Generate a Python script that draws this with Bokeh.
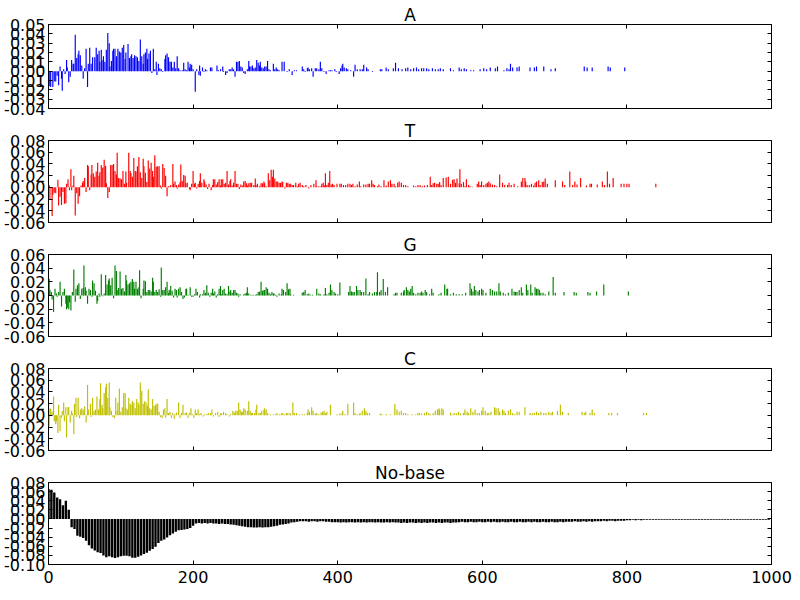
from bokeh.plotting import figure
from bokeh.layouts import column
from bokeh.models import Range1d, FixedTicker, PrintfTickFormatter, LinearAxis
from bokeh.embed import file_html
from bokeh.resources import INLINE

FONT = "DejaVu Sans"

panel_titles = ["A", "T", "G", "C", "No-base"]
panel_colors = ["#0000ff", "#ff0000", "#008000", "#bfbf00", "#000000"]
x_ticks = [0, 200, 400, 600, 800, 1000]
a_ticks = [-0.04, -0.03, -0.02, -0.01, 0.0, 0.01, 0.02, 0.03, 0.04, 0.05]
t_ticks = [-0.06, -0.04, -0.02, 0.0, 0.02, 0.04, 0.06, 0.08]
g_ticks = [-0.06, -0.04, -0.02, 0.0, 0.02, 0.04, 0.06]
c_ticks = [-0.06, -0.04, -0.02, 0.0, 0.02, 0.04, 0.06, 0.08]
nb_ticks = [-0.10, -0.08, -0.06, -0.04, -0.02, 0.0, 0.02, 0.04, 0.06, 0.08]

a_data = [(1,-0.016),(3,-0.017),(6,-0.017),(8,-0.011),(10,-0.011),(12,-0.005),(14,-0.015),(16,0.005),(18,-0.008),(19,-0.021),(21,0.002),(23,-0.003),(25,0.012),(26,0.004),(28,-0.012),(30,-0.006),(32,0.012),(34,0.008),(35,0.008),(37,0.039),(39,0.014),(41,0.018),(42,0.022),(44,0.017),(46,0.006),(48,-0.008),(50,0.003),(52,0.024),(54,-0.017),(55,0.008),(57,0.025),(59,0.008),(61,0.015),(64,0.015),(66,0.025),(68,0.018),(70,0.022),(71,0.010),(73,0.023),(74,0.012),(76,0.016),(78,0.010),(80,0.023),(82,0.041),(84,0.030),(85,0.005),(87,0.011),(89,0.022),(90,0.024),(92,0.024),(94,0.016),(96,0.024),(98,0.021),(100,0.020),(102,0.025),(104,0.028),(106,0.013),(107,0.020),(110,0.029),(112,0.014),(114,0.016),(115,0.018),(117,0.014),(119,0.017),(121,0.016),(123,0.015),(125,0.011),(127,0.034),(129,0.016),(131,0.008),(132,0.018),(134,0.020),(136,0.024),(137,0.013),(139,0.019),(141,0.022),(143,-0.002),(145,0.024),(147,0.002),(149,0.010),(150,-0.004),(152,0.008),(154,0.003),(156,0.002),(158,-0.001),(161,0.013),(162,0.017),(164,0.019),(166,0.015),(168,0.010),(170,0.010),(172,0.004),(174,0.010),(176,0.003),(178,0.016),(180,0.003),(182,0.001),(185,0.001),(187,0.009),(189,0.002),(191,0.001),(193,0.010),(195,0.004),(196,0.008),(198,0.007),(200,0.002),(203,-0.022),(205,0.002),(208,-0.004),(209,0.006),(210,-0.005),(213,0.004),(215,-0.001),(217,0.002),(219,0.001),(224,0.004),(226,0.004),(233,0.006),(235,0.001),(238,0.002),(241,0.005),(242,-0.001),(245,-0.004),(247,-0.002),(250,0.002),(252,0.002),(254,0.004),(256,0.002),(258,-0.006),(260,0.010),(262,0.010),(264,0.011),(266,0.005),(268,0.004),(270,-0.002),(272,-0.003),(275,0.002),(277,0.011),(278,0.005),(280,0.005),(282,0.006),(284,0.003),(286,0.004),(288,0.012),(290,0.009),(292,0.006),(293,0.010),(295,0.004),(297,0.003),(299,0.005),(301,0.005),(303,0.011),(305,0.002),(307,0.001),(311,0.008),(313,0.002),(315,0.004),(317,0.002),(319,0.001),(323,0.010),(326,0.010),(330,-0.001),(333,0.002),(337,-0.004),(340,0.001),(343,0.001),(351,0.005),(353,0.002),(355,-0.001),(358,0.003),(359,0.004),(361,0.002),(364,0.003),(366,-0.006),(369,0.003),(371,0.003),(374,0.002),(376,0.010),(378,0.003),(381,-0.001),(384,-0.003),(388,0.001),(390,0.001),(392,0.001),(396,0.002),(398,-0.001),(402,-0.003),(404,0.003),(406,0.006),(407,0.008),(409,0.004),(412,0.003),(414,0.002),(418,0.001),(422,-0.006),(424,0.007),(427,0.002),(431,0.002),(434,0.002),(436,0.007),(440,0.004),(442,0.002),(448,-0.001),(459,0.002),(461,0.002),(467,0.004),(470,0.002),(477,0.003),(480,0.009),(484,0.003),(489,0.002),(494,0.003),(497,0.004),(501,0.002),(505,0.003),(509,0.004),(512,0.002),(516,0.003),(519,0.003),(523,0.003),(526,0.002),(531,0.003),(535,0.002),(539,0.002),(542,0.003),(546,0.002),(556,0.003),(560,0.001),(568,0.004),(571,0.002),(575,0.003),(578,0.002),(584,0.001),(588,0.001),(597,0.002),(602,0.003),(606,0.002),(611,0.004),(618,0.003),(621,0.005),(630,0.001),(634,0.003),(637,0.002),(639,0.008),(642,0.004),(648,0.004),(651,0.005),(666,0.004),(672,0.004),(675,0.005),(685,0.005),(695,0.002),(701,0.003),(741,0.005),(745,0.004),(752,0.004),(774,0.005),(777,0.004),(797,0.004)]

t_data = [(1,0.004),(2,-0.020),(5,-0.049),(6,-0.013),(8,-0.009),(10,-0.010),(13,0.013),(14,-0.031),(16,-0.016),(18,-0.030),(20,-0.008),(22,-0.028),(24,-0.027),(25,0.006),(27,0.014),(29,-0.005),(31,0.031),(32,-0.005),(34,0.003),(35,0.020),(37,-0.048),(39,-0.010),(41,-0.028),(43,-0.015),(45,0.003),(47,0.008),(48,0.011),(50,0.016),(52,-0.008),(54,0.038),(55,0.036),(57,-0.005),(59,0.022),(60,0.038),(62,0.024),(64,0.018),(66,0.027),(68,0.042),(70,0.020),(71,0.026),(73,0.038),(75,0.034),(77,0.047),(79,0.037),(80,0.007),(82,-0.018),(84,-0.008),(86,0.038),(88,0.038),(90,0.040),(92,0.028),(94,0.022),(95,0.059),(97,0.016),(99,0.015),(101,0.014),(103,0.028),(105,0.006),(107,0.027),(108,0.008),(111,0.059),(113,0.028),(114,0.024),(116,0.018),(118,0.050),(120,0.028),(121,0.027),(123,0.036),(125,0.052),(127,0.026),(129,0.016),(131,0.049),(132,0.036),(134,0.025),(136,0.009),(138,0.046),(140,0.032),(142,0.042),(144,0.028),(145,0.018),(147,0.055),(149,0.035),(151,0.036),(153,0.036),(155,0.003),(156,-0.002),(158,0.040),(160,0.033),(162,0.020),(164,-0.015),(166,0.002),(167,0.001),(169,0.004),(172,0.040),(173,0.006),(175,0.010),(177,0.004),(178,-0.002),(180,0.005),(182,0.009),(183,0.039),(185,0.011),(187,0.021),(189,0.020),(190,0.007),(192,0.008),(195,-0.003),(196,-0.005),(198,0.006),(200,0.028),(202,0.006),(203,0.008),(205,-0.002),(207,0.006),(209,0.011),(210,0.024),(212,0.008),(215,0.014),(216,0.010),(218,0.005),(220,-0.003),(222,0.006),(225,-0.005),(227,0.004),(228,0.014),(230,0.014),(232,0.005),(234,0.009),(236,0.014),(238,0.003),(239,0.014),(241,0.014),(243,0.006),(245,0.008),(247,0.028),(249,0.005),(251,0.011),(252,0.014),(254,0.003),(256,0.008),(258,0.028),(260,0.006),(262,0.006),(264,-0.003),(266,0.005),(268,0.003),(270,0.010),(272,0.011),(274,0.007),(275,0.003),(277,0.007),(279,0.008),(281,0.008),(284,0.004),(286,0.015),(287,0.004),(289,0.006),(292,0.002),(294,0.007),(296,0.007),(298,0.010),(299,0.007),(301,0.002),(304,0.024),(306,0.012),(308,0.030),(310,0.018),(311,0.030),(313,0.015),(315,0.010),(317,0.010),(319,0.008),(321,0.008),(323,0.010),(324,0.009),(327,-0.002),(329,0.008),(331,0.008),(333,0.006),(335,0.006),(337,0.004),(339,0.004),(342,0.008),(344,0.002),(346,0.006),(348,0.008),(351,0.004),(353,0.002),(356,0.004),(360,-0.002),(363,0.004),(367,0.006),(370,0.012),(371,0.002),(374,0.002),(377,0.002),(378,0.006),(380,0.008),(382,0.003),(383,0.024),(385,0.004),(387,0.008),(389,0.028),(391,0.005),(393,0.006),(395,0.004),(399,0.006),(403,0.006),(405,0.006),(408,0.004),(411,0.004),(414,0.006),(417,0.006),(419,0.004),(421,0.006),(424,0.002),(427,0.005),(430,0.010),(432,0.002),(436,0.005),(439,0.005),(442,0.006),(444,0.006),(447,0.012),(449,0.006),(451,0.004),(455,0.002),(457,0.005),(460,0.002),(464,0.012),(467,0.003),(470,0.010),(473,0.012),(475,0.006),(478,0.006),(480,0.002),(483,0.008),(485,0.010),(488,0.008),(491,0.004),(494,0.004),(497,0.002),(505,0.003),(508,0.002),(511,0.004),(514,0.004),(517,0.002),(520,0.003),(524,0.004),(528,0.018),(530,0.004),(532,0.007),(534,0.008),(537,0.006),(539,0.006),(541,0.009),(543,0.004),(546,0.016),(550,0.017),(553,0.018),(556,0.006),(559,0.013),(561,0.014),(563,0.008),(565,0.015),(568,0.007),(569,0.031),(571,0.006),(574,0.009),(576,0.002),(578,0.014),(581,0.004),(583,0.002),(586,0.001),(593,0.006),(595,0.010),(597,0.004),(599,0.010),(602,0.004),(605,0.006),(607,0.008),(609,0.010),(611,0.007),(614,0.005),(617,0.004),(620,0.002),(624,0.022),(628,0.008),(631,0.004),(635,0.004),(637,0.008),(640,0.004),(644,0.006),(649,0.002),(654,0.010),(656,0.016),(659,0.016),(660,0.010),(662,0.004),(665,0.004),(668,0.006),(671,0.003),(673,0.008),(675,0.010),(678,0.012),(680,0.004),(683,0.009),(685,0.010),(687,0.015),(690,0.006),(701,0.012),(711,0.010),(714,0.004),(721,0.027),(725,0.004),(728,0.010),(731,0.005),(736,0.016),(744,0.003),(749,0.006),(751,0.006),(759,0.005),(766,0.010),(769,0.004),(773,0.027),(776,0.006),(781,0.016),(792,0.006),(796,0.006),(800,0.006),(803,0.006),(840,0.006)]

g_data = [(1,0.024),(2,0.008),(4,0.005),(5,-0.006),(7,-0.024),(9,0.010),(11,0.003),(12,-0.002),(14,0.005),(16,0.020),(18,-0.016),(20,0.005),(22,0.010),(24,-0.012),(25,-0.020),(26,-0.018),(28,-0.020),(29,-0.010),(31,-0.022),(33,0.005),(35,0.038),(37,-0.009),(38,0.010),(40,0.015),(42,0.018),(44,-0.005),(46,0.010),(48,0.011),(49,0.044),(51,0.012),(52,0.007),(54,-0.012),(56,0.010),(58,0.008),(60,-0.002),(61,0.022),(63,0.018),(65,0.007),(67,-0.012),(68,-0.008),(70,0.003),(71,-0.002),(73,0.031),(75,-0.001),(77,0.003),(79,0.030),(81,0.016),(83,0.022),(84,0.025),(86,0.015),(88,0.026),(90,-0.004),(92,0.044),(94,0.036),(95,0.008),(97,0.011),(99,0.035),(101,0.010),(103,0.011),(105,0.006),(107,0.030),(108,0.022),(110,0.016),(112,0.018),(114,0.020),(116,0.024),(118,0.020),(119,0.010),(121,0.020),(123,0.010),(125,0.012),(126,0.037),(128,-0.004),(131,0.010),(132,0.022),(134,0.021),(136,0.005),(138,0.008),(140,0.008),(142,0.006),(144,0.026),(145,0.020),(147,0.005),(149,0.008),(151,0.005),(153,0.009),(155,-0.002),(156,0.041),(158,0.008),(160,0.008),(162,0.012),(164,0.020),(166,0.004),(167,0.008),(169,0.014),(171,0.007),(173,-0.003),(175,0.010),(177,0.008),(178,-0.003),(180,0.010),(182,0.012),(184,0.005),(186,-0.005),(188,-0.003),(190,0.010),(191,0.010),(193,0.001),(196,0.012),(198,-0.002),(200,-0.002),(202,0.002),(204,0.010),(206,0.005),(209,-0.003),(210,0.002),(213,0.002),(215,0.008),(217,0.004),(219,0.015),(221,0.004),(223,-0.002),(225,0.004),(227,0.010),(228,0.003),(230,0.006),(232,-0.003),(234,0.002),(236,0.010),(238,0.014),(239,0.002),(241,0.008),(243,0.010),(245,0.003),(247,0.002),(249,0.014),(251,0.006),(252,0.008),(254,0.004),(256,0.008),(258,0.008),(260,0.004),(262,0.003),(263,-0.002),(265,0.002),(270,0.002),(272,0.003),(274,0.004),(275,0.012),(277,0.003),(280,0.001),(283,0.001),(286,0.001),(288,0.002),(290,0.005),(292,0.006),(294,0.020),(296,0.007),(298,0.008),(299,0.008),(301,0.012),(303,0.010),(305,0.004),(307,0.002),(309,0.005),(311,0.003),(312,0.003),(314,0.001),(316,-0.002),(319,0.003),(322,0.002),(323,0.010),(325,0.008),(328,0.005),(330,0.018),(332,0.009),(334,0.010),(335,0.002),(339,0.001),(351,0.004),(353,0.005),(355,0.008),(358,0.002),(360,0.003),(362,0.001),(365,0.001),(371,0.010),(374,0.003),(376,0.002),(381,0.002),(383,0.011),(385,0.002),(388,0.004),(390,0.016),(392,0.008),(395,0.005),(397,0.003),(400,0.002),(403,0.019),(415,0.005),(417,0.014),(419,0.006),(421,0.005),(423,0.005),(426,0.014),(428,0.008),(431,0.008),(433,0.005),(436,0.005),(439,0.025),(442,0.002),(444,0.005),(448,0.003),(451,0.005),(454,0.005),(455,0.034),(458,0.005),(460,0.008),(463,0.024),(466,0.005),(469,0.012),(478,0.002),(480,0.004),(482,0.004),(488,0.004),(491,0.006),(492,0.008),(495,0.012),(497,0.008),(499,0.006),(501,0.010),(503,0.014),(505,0.004),(508,0.002),(511,0.004),(514,0.004),(516,0.006),(518,0.004),(521,0.008),(523,0.005),(527,0.002),(530,0.010),(532,0.004),(540,0.002),(543,0.004),(548,0.016),(551,0.010),(552,0.010),(556,0.002),(560,0.004),(564,0.002),(568,0.002),(572,0.002),(577,0.004),(583,0.018),(585,0.010),(587,0.006),(589,0.014),(591,0.008),(594,0.006),(596,0.008),(599,0.010),(601,0.008),(605,0.004),(611,0.010),(614,0.008),(617,0.006),(620,0.006),(623,0.018),(625,0.006),(629,0.004),(632,0.002),(636,0.004),(641,0.010),(644,0.006),(646,0.005),(648,0.005),(651,0.008),(654,0.012),(656,0.004),(661,0.016),(663,0.008),(667,0.016),(669,0.004),(673,0.012),(675,0.010),(677,0.010),(679,0.008),(681,0.004),(684,0.004),(687,0.002),(692,0.006),(698,0.027),(701,0.004),(713,0.005),(727,0.005),(730,0.004),(746,0.005),(749,0.004),(758,0.006),(768,0.016),(802,0.006)]

c_data = [(1,-0.018),(2,0.012),(3,0.011),(5,0.006),(7,0.032),(8,-0.010),(10,-0.015),(11,-0.010),(13,-0.030),(14,0.018),(16,-0.027),(18,-0.004),(19,0.008),(21,0.022),(22,-0.010),(24,0.014),(25,-0.038),(27,0.014),(28,0.014),(30,-0.012),(32,0.008),(33,0.003),(35,-0.032),(36,0.020),(38,0.030),(39,-0.003),(41,0.030),(43,-0.005),(44,0.010),(46,0.012),(48,0.010),(50,0.015),(52,-0.012),(54,0.052),(55,0.010),(58,0.020),(59,-0.003),(61,0.030),(63,0.008),(65,0.010),(67,0.032),(69,0.010),(71,0.028),(72,0.055),(74,0.018),(75,0.012),(77,0.038),(79,0.048),(80,0.054),(82,0.030),(84,0.056),(85,0.014),(87,0.008),(89,-0.003),(91,-0.005),(93,0.030),(95,0.008),(96,0.022),(98,0.046),(100,0.006),(102,0.014),(104,0.038),(106,0.038),(107,0.013),(109,0.010),(111,0.030),(113,0.020),(114,0.018),(116,0.024),(118,0.022),(120,0.012),(122,0.028),(124,0.022),(125,0.018),(127,0.056),(129,0.042),(131,0.020),(133,0.024),(135,0.022),(137,0.016),(138,0.044),(140,0.012),(142,0.010),(144,0.028),(146,0.016),(148,0.018),(150,0.020),(151,0.020),(153,0.006),(155,-0.003),(157,-0.005),(159,0.010),(161,0.012),(162,-0.004),(164,0.028),(166,0.004),(168,0.006),(170,-0.004),(172,0.004),(174,-0.006),(175,0.002),(177,0.005),(180,0.022),(182,-0.004),(184,0.004),(186,0.018),(189,0.004),(191,0.005),(193,-0.004),(195,0.004),(197,0.012),(199,0.002),(201,-0.004),(203,0.010),(205,0.004),(207,0.010),(209,0.002),(211,0.004),(214,-0.002),(216,0.002),(219,0.002),(221,0.004),(224,0.004),(226,0.010),(228,-0.002),(231,0.004),(234,0.006),(236,-0.003),(238,0.003),(239,0.004),(242,0.006),(245,0.004),(247,0.002),(250,-0.002),(252,0.002),(255,0.008),(257,0.005),(259,0.008),(261,0.008),(263,0.022),(265,0.010),(267,0.006),(268,0.006),(270,0.012),(272,0.010),(275,0.008),(277,0.024),(279,0.008),(281,0.004),(282,0.004),(285,0.004),(287,0.010),(288,0.018),(291,0.004),(293,0.004),(295,0.008),(298,0.010),(299,0.012),(301,0.010),(303,0.004),(307,0.002),(311,0.002),(314,0.002),(316,0.004),(319,0.002),(322,0.003),(324,0.004),(326,0.002),(329,0.004),(331,0.004),(334,0.004),(335,0.002),(338,0.022),(340,0.004),(343,0.004),(347,0.002),(351,0.002),(354,0.002),(358,0.004),(359,0.010),(361,0.006),(364,0.014),(366,0.008),(369,0.003),(371,0.004),(374,0.002),(377,0.005),(379,0.006),(381,0.008),(383,0.004),(385,0.006),(390,0.018),(399,0.002),(403,0.003),(406,0.004),(407,0.008),(410,0.002),(414,0.020),(422,0.022),(424,0.004),(427,0.002),(430,0.002),(431,0.004),(434,0.008),(437,0.012),(439,0.008),(441,0.004),(444,0.004),(459,0.003),(461,0.002),(467,0.002),(473,0.002),(479,0.020),(482,0.010),(485,0.006),(488,0.008),(491,0.004),(494,0.004),(497,0.002),(503,0.002),(508,0.002),(511,0.004),(513,0.004),(516,0.003),(520,0.004),(523,0.006),(526,0.004),(528,0.002),(532,0.004),(535,0.008),(538,0.010),(540,0.012),(541,0.010),(544,0.012),(546,0.010),(556,0.005),(558,0.002),(561,0.004),(564,0.004),(567,0.006),(570,0.003),(574,0.004),(576,0.010),(579,0.006),(581,0.004),(584,0.012),(587,0.006),(590,0.010),(593,0.004),(596,0.004),(599,0.008),(601,0.014),(604,0.008),(607,0.004),(609,0.004),(612,0.006),(617,0.014),(619,0.012),(622,0.012),(624,0.006),(628,0.010),(630,0.008),(632,0.004),(636,0.008),(639,0.010),(642,0.004),(645,0.002),(648,0.006),(651,0.006),(659,0.014),(666,0.004),(669,0.004),(672,0.004),(675,0.006),(678,0.004),(681,0.006),(685,0.004),(688,0.004),(692,0.006),(695,0.004),(697,0.006),(704,0.008),(708,0.018),(711,0.006),(719,0.004),(738,0.006),(741,0.004),(743,0.006),(749,0.004),(752,0.010),(755,0.004),(775,0.004),(779,0.004),(787,0.004),(823,0.004),(827,0.004)]

nb_positions = list(range(0, 1000, 4))
nb_values = [
    0.066, 0.064, 0.058, 0.047, 0.043, 0.030, 0.040, 0.020, -0.018, -0.022,
    -0.037, -0.039, -0.042, -0.048, -0.058, -0.065, -0.069, -0.073, -0.075, -0.080,
    -0.084, -0.082, -0.084, -0.086, -0.084, -0.082, -0.081, -0.081, -0.082, -0.085,
    -0.085, -0.083, -0.080, -0.077, -0.074, -0.070, -0.066, -0.061, -0.053, -0.048,
    -0.045, -0.041, -0.036, -0.032, -0.028, -0.025, -0.024, -0.023, -0.022, -0.020,
    -0.015, -0.010, -0.009, -0.010, -0.009, -0.010, -0.009, -0.010, -0.010, -0.011,
    -0.010, -0.011, -0.011, -0.012, -0.013, -0.014, -0.015, -0.016, -0.017, -0.018,
    -0.018, -0.019, -0.019, -0.018, -0.019, -0.018, -0.018, -0.017, -0.016, -0.015,
    -0.013, -0.012, -0.011, -0.010, -0.008, -0.007, -0.006, -0.005, -0.005, -0.005,
    -0.006, -0.005, -0.005, -0.006, -0.005, -0.005, -0.006, -0.006, -0.007, -0.007,
    -0.007, -0.008, -0.007, -0.008, -0.007, -0.007, -0.008, -0.007, -0.008, -0.007,
    -0.008, -0.007, -0.007, -0.008, -0.007, -0.008, -0.008, -0.007, -0.008, -0.007,
    -0.008, -0.008, -0.009, -0.008, -0.009, -0.008, -0.008, -0.009, -0.008, -0.009,
    -0.008, -0.009, -0.008, -0.008, -0.009, -0.008, -0.009, -0.008, -0.008, -0.009,
    -0.008, -0.008, -0.007, -0.006, -0.007, -0.007, -0.006, -0.007, -0.007, -0.006,
    -0.007, -0.007, -0.006, -0.007, -0.006, -0.007, -0.007, -0.006, -0.007, -0.007,
    -0.006, -0.007, -0.007, -0.006, -0.007, -0.007, -0.006, -0.007, -0.006, -0.007,
    -0.007, -0.006, -0.007, -0.007, -0.006, -0.007, -0.007, -0.006, -0.007, -0.006,
    -0.006, -0.006, -0.005, -0.006, -0.006, -0.005, -0.006, -0.005, -0.006, -0.005,
    -0.005, -0.005, -0.004, -0.005, -0.004, -0.004, -0.005, -0.004, -0.004, -0.004,
    -0.003, -0.003, -0.002, -0.003, -0.002, -0.003, -0.002, -0.002, -0.002, -0.002,
    -0.002, -0.002, -0.002, -0.002, -0.0015, -0.002, -0.0015, -0.0015, -0.0015, -0.0015,
    -0.0015, -0.0015, -0.0015, -0.0015, -0.0015, -0.0015, -0.0015, -0.0015, -0.0015, -0.0015,
    -0.0015, -0.0015, -0.0015, -0.0015, -0.0015, -0.0015, -0.0015, -0.0015, -0.0015, -0.0015,
    -0.0015, -0.0015, -0.0015, -0.0015, -0.0015, -0.0015, -0.0015, -0.0015, -0.0015, -0.0015,
]

y_ranges = [(-0.04, 0.05), (-0.06, 0.08), (-0.06, 0.06), (-0.06, 0.08), (-0.10, 0.08)]
y_tick_sets = [a_ticks, t_ticks, g_ticks, c_ticks, nb_ticks]


def style_axis(ax, ticks, show_labels, standoff=3):
    ax.axis_line_color = None
    ax.major_tick_in = 4
    ax.major_tick_out = 0
    ax.major_tick_line_color = "black"
    ax.major_tick_line_width = 1
    ax.minor_tick_line_color = None
    ax.major_label_text_font = FONT
    ax.major_label_text_color = "black"
    if show_labels:
        ax.major_label_text_font_size = "16px"
        ax.major_label_standoff = standoff
    else:
        ax.major_label_overrides = {t: "" for t in ticks}
        ax.major_label_text_font_size = "0px"
        ax.major_label_standoff = 0


def make_panel(i, xs, ys, bar_width, top_border, bottom_border, height, show_x_labels):
    p = figure(width=792, height=height, x_range=Range1d(0, 1000),
               y_range=Range1d(*y_ranges[i]), output_backend="svg",
               toolbar_location=None, title=panel_titles[i],
               min_border_left=48, min_border_right=21,
               min_border_top=top_border, min_border_bottom=bottom_border)
    p.title.align = "center"
    p.title.text_font = FONT
    p.title.text_font_size = "17px"
    p.title.text_font_style = "normal"
    p.title.text_color = "black"
    p.title.standoff = 0
    p.xgrid.visible = False
    p.ygrid.visible = False
    p.outline_line_color = "black"
    p.outline_line_width = 1
    p.outline_line_alpha = 1.0
    p.background_fill_color = "white"
    p.border_fill_color = "white"

    p.xaxis.ticker = FixedTicker(ticks=x_ticks)
    p.yaxis.ticker = FixedTicker(ticks=y_tick_sets[i])
    p.yaxis.formatter = PrintfTickFormatter(format="%.2f")
    style_axis(p.xaxis[0], x_ticks, show_x_labels, standoff=6)
    style_axis(p.yaxis[0], y_tick_sets[i], True, standoff=3)

    top_ax = LinearAxis(ticker=FixedTicker(ticks=x_ticks))
    style_axis(top_ax, x_ticks, False)
    p.add_layout(top_ax, "above")
    right_ax = LinearAxis(ticker=FixedTicker(ticks=y_tick_sets[i]))
    style_axis(right_ax, y_tick_sets[i], False)
    p.add_layout(right_ax, "right")

    p.vbar(x=xs, top=ys, bottom=0, width=bar_width,
           fill_color=panel_colors[i], line_color=None)
    return p


spike_sets = [a_data, t_data, g_data, c_data]
figs = []
for i, data in enumerate(spike_sets):
    xs = [d[0] for d in data]
    ys = [d[1] for d in data]
    if i == 0:
        f = make_panel(i, xs, ys, 1.6, 24, 10, 118, False)
    else:
        f = make_panel(i, xs, ys, 1.6, 20, 10, 114, False)
    figs.append(f)

figs.append(make_panel(4, nb_positions, nb_values, 3.3, 20, 34, 138, True))

layout = column(*figs, spacing=0)
open("out.html", "w").write(file_html(layout, INLINE))
